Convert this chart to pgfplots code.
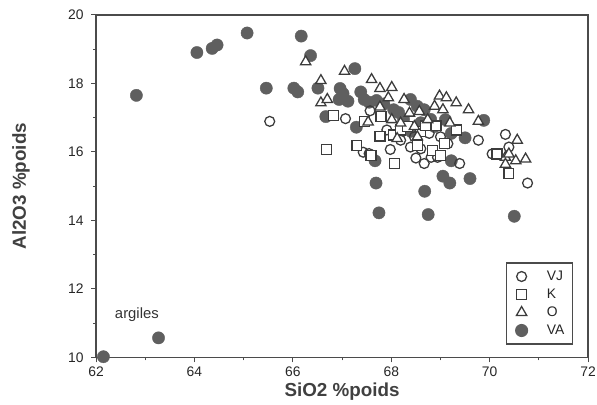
\documentclass[border=0pt]{standalone}
\usepackage{pgfplots}
\pgfplotsset{compat=1.18}
\usepackage{fontspec}
\setmainfont{Liberation Sans}
\definecolor{framec}{RGB}{75,75,75}
\definecolor{fillc}{RGB}{95,95,95}
\definecolor{markc}{RGB}{60,60,60}
\begin{document}
\begin{tikzpicture}
\begin{axis}[
  scale only axis,
  width=497pt, height=346pt,
  xmin=62, xmax=72, ymin=10, ymax=20,
  xtick={62,64,...,72}, ytick={10,12,...,20},
  minor x tick num=1, minor y tick num=1,
  xtick pos=bottom, ytick pos=left,
  tick align=outside,
  major tick length=5pt, minor tick length=3pt,
  every tick/.style={framec, line width=1pt},
  axis line style={framec, line width=1.6pt},
  /pgf/number format/assume math mode=true,
  ticklabel style={font=\fontsize{14}{16}\selectfont, text=black!85},
  xticklabel style={yshift=-1pt},
  yticklabel style={xshift=-4pt},
  xlabel={\textbf{SiO2 \%poids}},
  ylabel={\textbf{Al2O3 \%poids}},
  xlabel style={font=\fontsize{19}{22}\selectfont, text=black!75, yshift=1pt},
  ylabel style={font=\fontsize{19}{22}\selectfont, text=black!75, yshift=32pt},
  legend style={at={(axis description cs:0.970,0.0376)}, anchor=south east,
    draw=framec, line width=1.2pt, font=\fontsize{14}{16}\selectfont,
    row sep=3pt, inner xsep=4pt, inner ysep=6pt, text=black!85,
    nodes={inner ysep=2pt, inner xsep=4.5pt}},
  legend cell align=left,
  legend image code/.code={\path[draw=none,fill=none] (-11pt,0pt) -- (21pt,0pt); \draw plot coordinates {(0pt,0pt)};},
  clip=false,
]
% VA drawn first (behind)
\addplot[only marks, mark=*, mark size=6.2pt, draw=fillc, fill=fillc, forget plot] table {
62.15 10.02
63.27 10.57
62.82 17.65
64.05 18.90
64.36 19.02
64.46 19.12
65.07 19.47
65.46 17.86
66.17 19.38
66.36 18.81
66.02 17.86
66.10 17.75
66.51 17.86
67.26 18.43
66.67 17.03
66.96 17.85
66.94 17.53
67.12 17.48
67.02 17.70
67.29 16.72
67.38 17.75
67.45 17.53
67.55 17.45
67.67 15.74
67.69 15.09
67.75 14.22
67.70 17.50
68.05 17.23
68.15 17.15
68.25 16.95
68.39 17.53
68.53 17.33
68.67 17.23
68.68 14.85
68.75 14.17
68.88 16.74
68.80 16.95
69.10 16.94
69.05 15.29
69.19 15.09
69.22 15.74
69.22 16.54
69.50 16.41
69.60 15.22
69.88 16.92
70.50 14.12
68.40 16.60
68.60 16.85
67.85 17.40
};
\addplot[only marks, mark=o, mark size=5pt, draw=markc, line width=1.3pt, mark options={fill=white}] table {
65.53 16.89
67.07 16.97
67.57 17.20
67.43 15.99
67.98 16.07
67.91 16.64
68.39 16.14
68.50 15.82
68.67 15.66
68.81 15.84
68.60 16.09
68.77 16.54
69.15 16.24
69.39 15.66
69.77 16.34
70.32 16.51
70.39 16.14
70.77 15.09
70.05 15.94
68.19 16.34
68.47 16.44
69.00 16.44
68.94 15.84
67.55 15.95
};
\addlegendentry{VJ}
\addplot[only marks, mark=square*, mark size=5pt, draw=markc, line width=1.3pt, mark options={fill=white}] table {
66.68 16.07
66.83 17.06
67.30 16.19
67.59 15.89
67.77 16.46
67.79 17.03
67.45 16.89
68.07 15.66
68.05 16.49
68.53 16.19
68.60 16.59
68.70 16.76
68.91 16.76
68.84 16.04
69.00 15.89
69.32 16.64
70.15 15.94
70.39 15.36
69.08 16.24
68.19 16.64
68.33 16.74
};
\addlegendentry{K}
\addplot[only marks, mark=triangle*, mark size=6pt, draw=markc, line width=1.3pt, mark options={fill=white}] table {
66.26 18.63
66.57 18.08
66.57 17.43
66.70 17.53
67.05 18.35
67.53 16.87
67.60 18.11
67.77 17.85
67.77 17.31
67.94 17.58
68.01 17.88
68.01 16.94
68.12 16.39
68.19 16.84
68.26 17.53
68.37 17.13
68.47 16.74
68.53 16.44
68.57 17.18
68.74 16.94
68.88 17.33
68.98 17.63
69.05 17.23
69.12 17.58
69.19 16.84
69.32 17.43
69.57 17.23
69.77 16.89
70.32 15.84
70.39 15.94
70.56 16.34
70.53 15.74
70.73 15.79
70.32 15.64
};
\addlegendentry{O}
\addlegendimage{only marks, mark=*, mark size=6pt, draw=fillc, fill=fillc}
\addlegendentry{VA}
\node[font=\fontsize{15}{17}\selectfont, text=black!80] at (axis cs:62.83,11.26) {argiles};
\end{axis}
\pgfresetboundingbox
\path[use as bounding box] (current axis.south west) ++(-97pt,-48pt) rectangle ([xshift=9pt,yshift=15pt]current axis.north east);
\end{tikzpicture}
\end{document}
